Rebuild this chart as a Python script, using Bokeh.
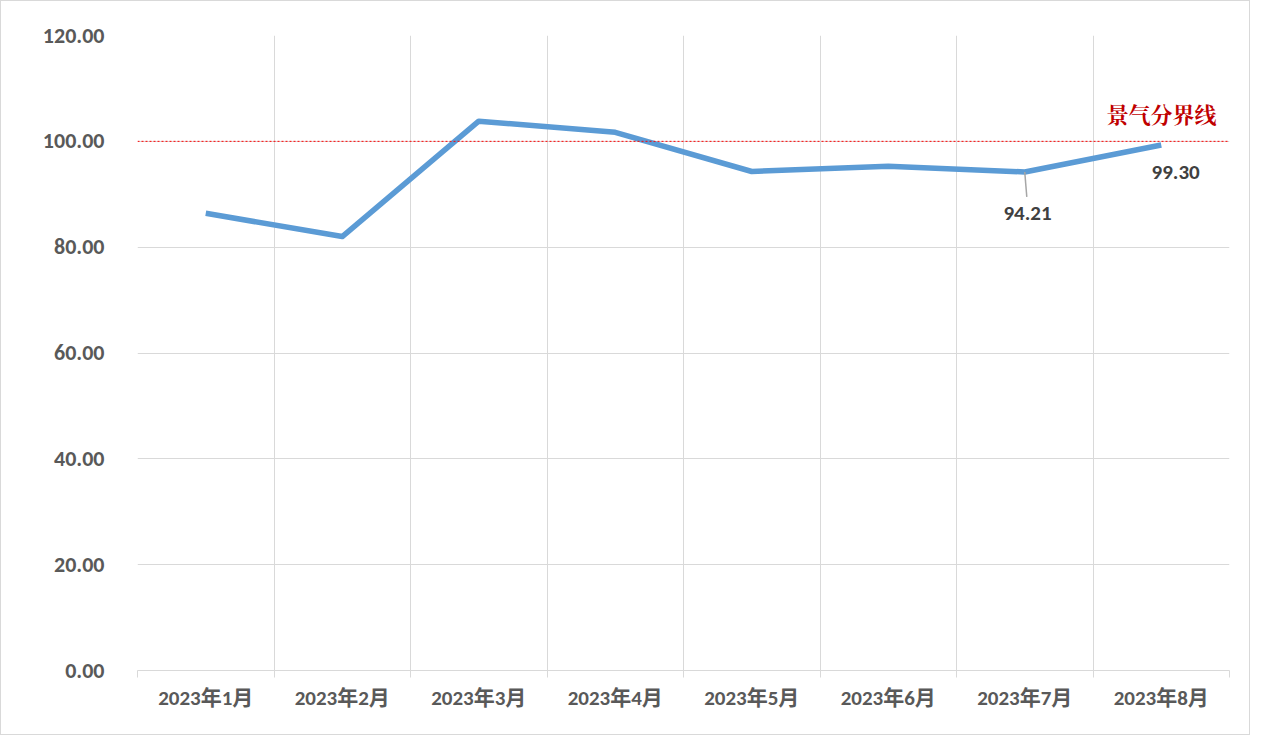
from bokeh.plotting import figure
from bokeh.models import FixedTicker, NumeralTickFormatter, Span, Label
from bokeh.core.properties import value
from bokeh.embed import file_html
from bokeh.resources import INLINE

months = ["2023年1月", "2023年2月", "2023年3月", "2023年4月",
          "2023年5月", "2023年6月", "2023年7月", "2023年8月"]
index_values = [86.4, 82.0, 103.8, 101.7, 94.3, 95.3, 94.21, 99.30]
boundary_value = 100.0
boundary_label = "景气分界线"
y_ticks = [0, 20, 40, 60, 80, 100, 120]

xs = [i + 0.5 for i in range(len(months))]

p = figure(width=1250, height=735, output_backend="svg", toolbar_location=None,
           x_range=(0, len(months)), y_range=(0, 120),
           min_border_left=136, min_border_right=22, min_border_top=34, min_border_bottom=66,
           styles={"border": "1px solid #d9d9d9"})
p.outline_line_color = None
p.background_fill_color = "white"
p.border_fill_color = "white"

LATIN = "Calibri, Carlito, Lato, 'Noto Sans CJK SC'"

# x axis
p.xaxis.ticker = FixedTicker(ticks=xs, minor_ticks=list(range(len(months) + 1)))
p.xaxis.major_label_overrides = {x: m for x, m in zip(xs, months)}
p.xaxis.major_tick_line_color = None
p.xaxis.minor_tick_line_color = "#d9d9d9"
p.xaxis.minor_tick_in = 0
p.xaxis.minor_tick_out = 7
p.xaxis.axis_line_color = "#d9d9d9"
p.xaxis.axis_line_width = 1
p.xaxis.major_label_text_font = LATIN
p.xaxis.major_label_text_font_size = "21px"
p.xaxis.major_label_text_font_style = "bold"
p.xaxis.major_label_text_color = "#595959"
p.xaxis.major_label_standoff = 7

p.xgrid.ticker = FixedTicker(ticks=list(range(len(months) + 1)))
p.xgrid.grid_line_color = "#d9d9d9"
p.xgrid.grid_line_width = 1

# y axis
p.yaxis.ticker = FixedTicker(ticks=y_ticks)
p.yaxis.formatter = NumeralTickFormatter(format="0.00")
p.yaxis.axis_line_color = None
p.yaxis.major_tick_line_color = None
p.yaxis.minor_tick_line_color = None
p.yaxis.major_label_text_font = LATIN
p.yaxis.major_label_text_font_size = "22px"
p.yaxis.major_label_text_font_style = "bold"
p.yaxis.major_label_text_color = "#595959"
p.yaxis.major_label_standoff = 27
p.ygrid.grid_line_color = "#d9d9d9"
p.ygrid.grid_line_width = 1

# boundary line
p.add_layout(Span(location=boundary_value, dimension="width", line_color="#ff0000",
                  line_width=1, line_dash="2 2"))
p.add_layout(Label(x=len(months), y=boundary_value, text=boundary_label,
                   x_offset=-13, y_offset=12, text_align="right", text_baseline="bottom",
                   text_color="#C00000", text_font_size="22px", text_font_style="bold",
                   text_font="'Noto Serif CJK SC', 'Noto Sans CJK SC'"))

# series
p.line(xs, index_values, line_color="#5B9BD5", line_width=5.5, line_join="round")

# leader line for July label
jx, jy = xs[6], index_values[6]
p.segment(x0=[jx], y0=[jy], x1=[jx + 0.015], y1=[jy - 4.7], line_color="#a6a6a6", line_width=1.5)
p.text(x=[jx + 0.02], y=[jy], text=[f"{jy:.2f}"], y_offset=[42],
       text_align="center", text_baseline="middle", text_color="#404040",
       text_font=value(LATIN), text_font_size="21px", text_font_style="bold")
ax, ay = xs[7], index_values[7]
p.text(x=[ax + 0.105], y=[ay], text=[f"{ay:.2f}"], y_offset=[27],
       text_align="center", text_baseline="middle", text_color="#404040",
       text_font=value(LATIN), text_font_size="21px", text_font_style="bold")

open("out.html", "w").write(file_html(p, INLINE))
